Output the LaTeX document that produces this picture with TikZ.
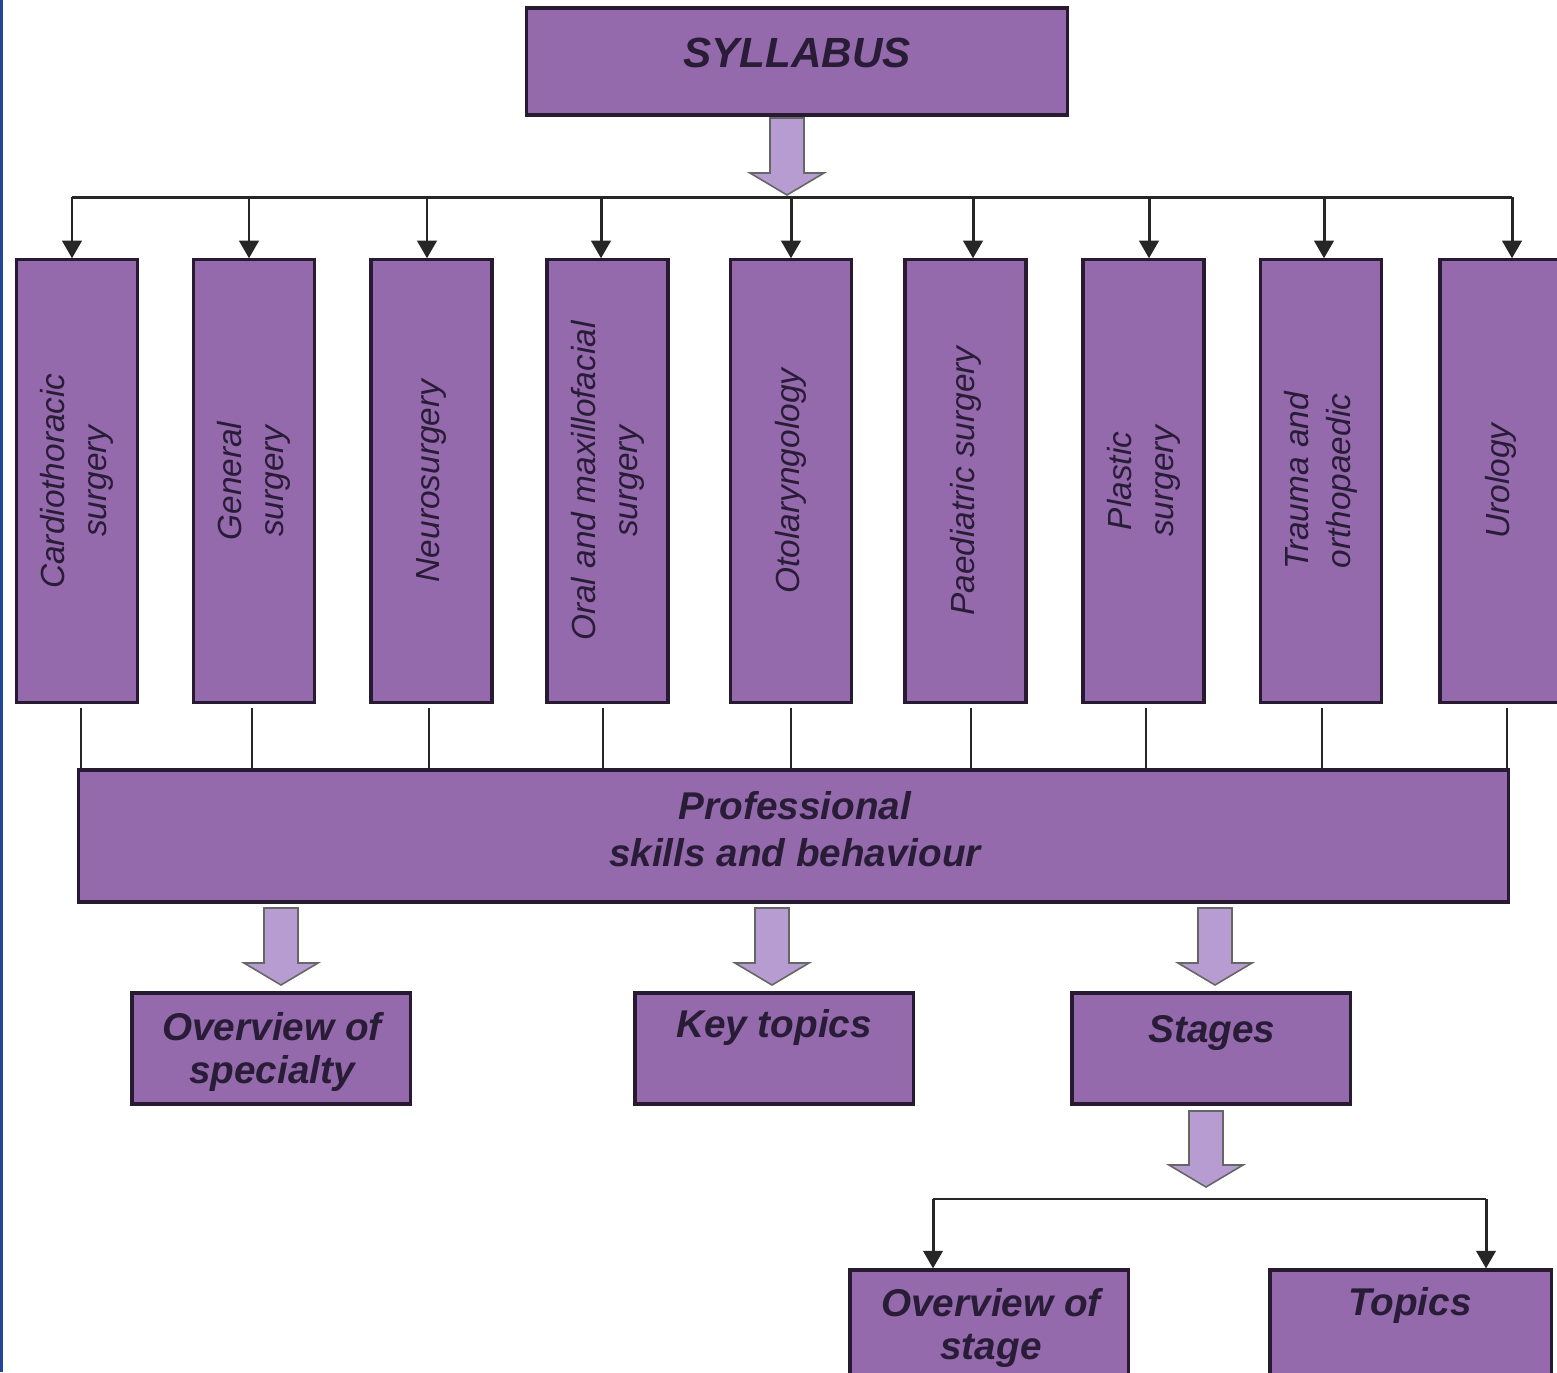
\documentclass[tikz,border=0pt]{standalone}
\usepackage{fontspec}
\setmainfont{Liberation Sans}
\usetikzlibrary{arrows.meta,calc}

\definecolor{boxfill}{RGB}{148,106,172}
\definecolor{arrowfill}{RGB}{182,156,208}
\definecolor{boxline}{RGB}{40,26,48}
\definecolor{inktext}{RGB}{40,28,55}
\definecolor{slideblue}{RGB}{35,70,150}

\tikzset{
  purplebox/.style={draw=boxline, line width=0.9pt, fill=boxfill, inner sep=0pt},
  vbox/.style={purplebox, minimum width=1.21cm, minimum height=4.42cm},
  lowbox/.style={purplebox, minimum width=2.78cm, minimum height=1.11cm},
  vtext/.style={rotate=90, align=center, text=inktext, inner sep=0pt,
    font=\fontsize{9.5}{12}\selectfont\itshape},
  btext/.style={align=center, text=inktext, inner sep=0pt,
    font=\fontsize{11}{13.3}\selectfont\bfseries\itshape},
  bus/.style={line width=0.85pt, draw=black!85},
  lowbus/.style={line width=0.55pt, draw=black!85},
  tip/.style={bus, -{Triangle[width=5.5pt,length=5pt]}},
  feed/.style={line width=0.45pt, draw=black!85},
  bigarrow/.style={fill=arrowfill, draw=black!60, line width=0.45pt, line join=miter}
}

% hollow block arrow from top centre (#1) to tip (#2)
\newcommand{\blockarrow}[2]{%
  \draw[bigarrow] ($(#1)+(-17,0)$) -- ($(#1)+(17,0)$) -- ($(#2)+(17,-22)$)
    -- ($(#2)+(37,-22)$) -- (#2) -- ($(#2)+(-37,-22)$) -- ($(#2)+(-17,-22)$) -- cycle;}

\begin{document}
\begin{tikzpicture}[x=0.01cm, y=-0.01cm]
  \useasboundingbox (0,0) rectangle (1557,1372);
  \clip (0,0) rectangle (1557,1372);
  \fill[white] (0,0) rectangle (1557,1372);
  \fill[slideblue] (0,0) rectangle (3,1372);

  % syllabus
  \node[purplebox, minimum width=5.40cm, minimum height=1.07cm] (syl) at (797,61.5) {};
  \node[btext, font=\fontsize{12}{14}\selectfont\bfseries\itshape, anchor=base] (syltxt) at (797,67) {SYLLABUS};
  \coordinate (a0top) at (787,118);
  \coordinate (a0tip) at (787,195);
  \blockarrow{a0top}{a0tip}

  % specialties
  \node[vbox] (b1) at (77,481) {};
  \node[vbox] (b2) at (254,481) {};
  \node[vbox] (b3) at (431.5,481) {};
  \node[vbox] (b4) at (607.5,481) {};
  \node[vbox] (b5) at (791,481) {};
  \node[vbox] (b6) at (965.5,481) {};
  \node[vbox] (b7) at (1143.5,481) {};
  \node[vbox] (b8) at (1321,481) {};
  \node[vbox] (b9) at (1500.5,481) {};
  \node[vtext] (v1) at (b1) {Cardiothoracic\\surgery};
  \node[vtext] (v2) at (b2) {General\\surgery};
  \node[vtext] (v3) at (b3) {Neurosurgery};
  \node[vtext] (v4) at (b4) {Oral and maxillofacial\\surgery};
  \node[vtext] (v5) at (b5) {Otolaryngology};
  \node[vtext] (v6) at (b6) {Paediatric surgery};
  \node[vtext] (v7) at (b7) {Plastic\\surgery};
  \node[vtext] (v8) at (b8) {Trauma and\\orthopaedic};
  \node[vtext] (v9) at (b9) {Urology};

  % branching line
  \coordinate (t1) at (72,197);
  \coordinate (t2) at (249,197);
  \coordinate (t3) at (427,197);
  \coordinate (t4) at (601,197);
  \coordinate (t5) at (791,197);
  \coordinate (t6) at (973,197);
  \coordinate (t7) at (1149,197);
  \coordinate (t8) at (1324,197);
  \coordinate (t9) at (1512,197);
  \draw[bus] (t1) -- (t9);
  \draw[tip] (t1) -- (t1 |- b1.north);
  \draw[tip] (t2) -- (t2 |- b2.north);
  \draw[tip] (t3) -- (t3 |- b3.north);
  \draw[tip] (t4) -- (t4 |- b4.north);
  \draw[tip] (t5) -- (t5 |- b5.north);
  \draw[tip] (t6) -- (t6 |- b6.north);
  \draw[tip] (t7) -- (t7 |- b7.north);
  \draw[tip] (t8) -- (t8 |- b8.north);
  \draw[tip] (t9) -- (t9 |- b9.north);

  % professional skills
  \node[purplebox, minimum width=14.29cm, minimum height=1.32cm] (prof) at (793.5,836) {};
  \node[btext] (proftxt) at (795,829) {Professional\\skills and behaviour};
  \coordinate (f1) at (81,708);
  \coordinate (f2) at (252,708);
  \coordinate (f3) at (429,708);
  \coordinate (f4) at (603,708);
  \coordinate (f5) at (791,708);
  \coordinate (f6) at (971,708);
  \coordinate (f7) at (1146,708);
  \coordinate (f8) at (1322,708);
  \coordinate (f9) at (1507,708);
  \draw[feed] (f1) -- (f1 |- prof.north);
  \draw[feed] (f2) -- (f2 |- prof.north);
  \draw[feed] (f3) -- (f3 |- prof.north);
  \draw[feed] (f4) -- (f4 |- prof.north);
  \draw[feed] (f5) -- (f5 |- prof.north);
  \draw[feed] (f6) -- (f6 |- prof.north);
  \draw[feed] (f7) -- (f7 |- prof.north);
  \draw[feed] (f8) -- (f8 |- prof.north);
  \draw[feed] (f9) -- (f9 |- prof.north);

  % three outputs
  \coordinate (a1top) at (281,908);
  \coordinate (a1tip) at (281,985);
  \coordinate (a2top) at (772,908);
  \coordinate (a2tip) at (772,985);
  \coordinate (a3top) at (1215,908);
  \coordinate (a3tip) at (1215,985);
  \blockarrow{a1top}{a1tip}
  \blockarrow{a2top}{a2tip}
  \blockarrow{a3top}{a3tip}
  \node[lowbox] (spec) at (271,1048.5) {};
  \node[lowbox] (keyt) at (774,1048.5) {};
  \node[lowbox] (stag) at (1211,1048.5) {};
  \node[btext, font=\fontsize{11}{12}\selectfont\bfseries\itshape] (spectxt) at (272,1052) {Overview of\\specialty};
  \node[btext, anchor=base] (keyttxt) at (774,1037) {Key topics};
  \node[btext, anchor=base] (stagtxt) at (1212,1042) {Stages};

  % stages
  \coordinate (a4top) at (1206,1111);
  \coordinate (a4tip) at (1206,1187);
  \blockarrow{a4top}{a4tip}
  \node[lowbox] (ostage) at (989,1325.5) {};
  \node[lowbox, minimum width=2.81cm] (topics) at (1410.5,1325.5) {};
  \node[btext, font=\fontsize{11}{12}\selectfont\bfseries\itshape] (ostagetxt) at (991,1328) {Overview of\\stage};
  \node[btext, anchor=base] (topicstxt) at (1410,1315) {Topics};
  \coordinate (s1) at (933,1199);
  \coordinate (s2) at (1486,1199);
  \draw[lowbus] (s1) -- (s2);
  \draw[tip] (s1) -- (s1 |- ostage.north);
  \draw[tip] (s2) -- (s2 |- topics.north);
\end{tikzpicture}
\end{document}
